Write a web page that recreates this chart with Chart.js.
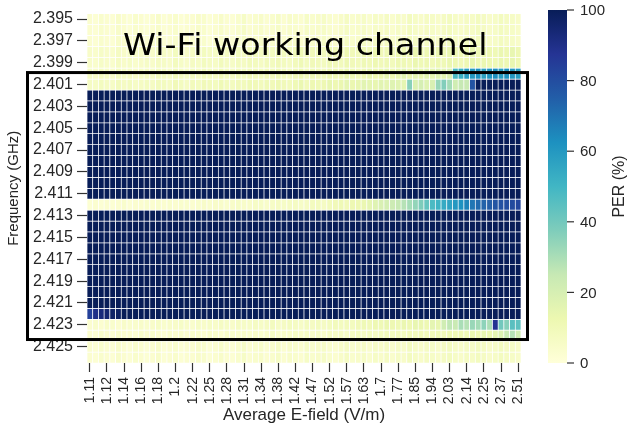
<!DOCTYPE html>
<html>
<head>
<meta charset="utf-8">
<title>PER heatmap</title>
<script src="https://cdn.jsdelivr.net/npm/chart.js@4.4.0/dist/chart.umd.min.js"></script>
<style>
    html, body { margin: 0; padding: 0; background: #ffffff; }
    #perChart { display: block; }
</style>
</head>
<body>
<canvas id="perChart" width="629" height="439"></canvas>
<script>
/* ===================================
   PER (%) vs frequency and E-field
   Heatmap drawn as stacked bar cells
   =================================== */

// Row labels (GHz), top to bottom
const frequencies = [
    '2.395', '2.396', '2.397', '2.398', '2.399', '2.400', '2.401', '2.402',
    '2.403', '2.404', '2.405', '2.406', '2.407', '2.408', '2.409', '2.410',
    '2.411', '2.412', '2.413', '2.414', '2.415', '2.416', '2.417', '2.418',
    '2.419', '2.420', '2.421', '2.422', '2.423', '2.424', '2.425', '2.426'
];

// Tick labels shown under every third E-field column (V/m)
const eFieldTicks = [
    '1.11', '1.12', '1.14', '1.16', '1.18', '1.2', '1.22', '1.25', '1.28',
    '1.31', '1.34', '1.38', '1.42', '1.47', '1.52', '1.57', '1.63', '1.7',
    '1.77', '1.85', '1.94', '2.03', '2.14', '2.25', '2.37', '2.51'
];

const perTicks = [0, 20, 40, 60, 80, 100];

// PER (%) per row, 76 E-field columns each
const quietRow = [
    3, 2, 4, 3, 2, 5, 3, 2, 4, 3, 2, 3, 5, 2, 3, 4, 2, 3, 3, 5,
    4, 2, 3, 5, 3, 2, 4, 6, 3, 4, 5, 3, 4, 6, 3, 5, 4, 3, 6, 4,
    5, 6, 4, 3, 5, 7, 4, 5, 6, 4, 6, 5, 7, 4, 6, 5, 8, 6, 5, 7,
    6, 5, 7, 8, 6, 5, 7, 6, 8, 7, 5, 6, 8, 7, 6, 5
];

const edgeRow = [
    5, 4, 6, 5, 4, 7, 5, 6, 4, 5, 6, 5, 7, 6, 5, 8, 6, 5, 7, 6,
    8, 7, 6, 9, 7, 6, 8, 7, 9, 8, 7, 9, 8, 10, 8, 7, 9, 11, 8, 10,
    9, 8, 11, 10, 9, 12, 10, 9, 11, 10, 12, 10, 11, 9, 12, 11, 10, 13, 11, 12,
    10, 12, 11, 13, 12, 10, 12, 14, 11, 13, 12, 11, 13, 12, 14, 12
];

const row2400 = [
    6, 5, 7, 6, 5, 8, 6, 7, 5, 6, 7, 6, 8, 7, 6, 9, 7, 6, 8, 7,
    9, 8, 7, 10, 8, 7, 9, 8, 10, 9, 8, 10, 9, 11, 9, 8, 10, 12, 9, 11,
    10, 9, 12, 11, 10, 13, 11, 10, 12, 14, 12, 13, 15, 12, 14, 16, 13, 15, 14, 16,
    15, 17, 16, 18, 48, 52, 58, 60, 62, 57, 61, 63, 59, 62, 60, 58
];

const row2401 = [
    7, 6, 8, 7, 6, 9, 7, 8, 6, 7, 8, 7, 9, 8, 7, 10, 8, 7, 9, 8,
    10, 9, 8, 11, 9, 8, 10, 9, 11, 10, 9, 11, 10, 12, 10, 9, 11, 13, 10, 12,
    11, 12, 14, 12, 13, 15, 13, 14, 16, 15, 14, 16, 15, 17, 16, 15, 36, 18, 20, 17,
    19, 33, 37, 31, 22, 25, 24, 78, 100, 100, 100, 100, 100, 100, 100, 100
];

const lossRow = [
    100, 100, 100, 100, 100, 100, 100, 100, 100, 100, 100, 100, 100, 100, 100, 100, 100, 100, 100, 100,
    100, 100, 100, 100, 100, 100, 100, 100, 100, 100, 100, 100, 100, 100, 100, 100, 100, 100, 100, 100,
    100, 100, 100, 100, 100, 100, 100, 100, 100, 100, 100, 100, 100, 100, 100, 100, 100, 100, 100, 100,
    100, 100, 100, 100, 100, 100, 100, 100, 100, 100, 100, 100, 100, 100, 100, 100
];

const row2412 = [
    2, 3, 2, 3, 2, 3, 4, 2, 3, 3, 4, 3, 4, 3, 4, 3, 4, 4, 3, 4,
    5, 4, 5, 5, 4, 5, 6, 5, 5, 6, 6, 5, 6, 7, 6, 7, 7, 6, 7, 8,
    8, 7, 9, 10, 11, 10, 12, 12, 13, 15, 17, 19, 21, 23, 25, 28, 31, 34, 38, 43,
    48, 51, 54, 57, 60, 62, 66, 69, 72, 74, 76, 78, 79, 80, 81, 82
];

const row2422 = [
    84, 90, 93, 95, 97, 98, 100, 100, 100, 100, 100, 100, 100, 100, 100, 100, 100, 100, 100, 100,
    100, 100, 100, 100, 100, 100, 100, 100, 100, 100, 100, 100, 100, 100, 100, 100, 100, 100, 100, 100,
    100, 100, 100, 100, 100, 100, 100, 100, 100, 100, 100, 100, 100, 100, 100, 100, 100, 100, 100, 100,
    100, 100, 100, 100, 100, 100, 100, 100, 100, 100, 100, 100, 100, 100, 100, 100
];

const row2423 = [
    3, 4, 3, 5, 4, 3, 5, 4, 4, 5, 4, 5, 6, 4, 5, 5, 6, 5, 4, 6,
    5, 6, 5, 7, 6, 5, 7, 6, 6, 7, 6, 7, 8, 6, 7, 8, 7, 6, 8, 7,
    8, 7, 8, 9, 8, 9, 8, 10, 11, 10, 12, 11, 13, 12, 11, 13, 12, 14, 13, 12,
    15, 14, 22, 26, 24, 30, 28, 33, 31, 35, 30, 88, 40, 36, 45, 44
];

const row2424 = [
    3, 2, 4, 3, 2, 4, 3, 3, 2, 4, 3, 4, 3, 2, 4, 3, 4, 3, 4, 4,
    3, 5, 4, 3, 5, 4, 4, 5, 4, 5, 4, 5, 6, 4, 5, 5, 6, 5, 6, 5,
    6, 5, 7, 6, 7, 6, 7, 8, 7, 8, 7, 8, 9, 8, 9, 8, 10, 9, 10, 9,
    10, 11, 10, 12, 11, 12, 11, 13, 12, 14, 13, 15, 18, 24, 28, 22
];

// One entry per frequency, same order as `frequencies`
const perGrid = [
    quietRow, quietRow, quietRow, edgeRow, edgeRow, row2400, row2401,
    lossRow, lossRow, lossRow, lossRow, lossRow, lossRow, lossRow, lossRow, lossRow, lossRow,
    row2412,
    lossRow, lossRow, lossRow, lossRow, lossRow, lossRow, lossRow, lossRow, lossRow,
    row2422, row2423, row2424, quietRow, quietRow
];

// YlGnBu colour map
const ylgnbuStops = ['#ffffd9', '#edf8b1', '#c7e9b4', '#7fcdbb', '#41b6c4',
                     '#1d91c0', '#225ea8', '#253494', '#081d58'];

function hexToRgb(hex) {
    const n = parseInt(hex.slice(1), 16);
    return [(n >> 16) & 255, (n >> 8) & 255, n & 255];
}

function ylgnbu(value) {
    const t = Math.max(0, Math.min(1, value / 100)) * (ylgnbuStops.length - 1);
    const i = Math.min(Math.floor(t), ylgnbuStops.length - 2);
    const f = t - i;
    const a = hexToRgb(ylgnbuStops[i]);
    const b = hexToRgb(ylgnbuStops[i + 1]);
    const c = a.map((v, k) => Math.round(v + (b[k] - v) * f));
    return `rgb(${c[0]}, ${c[1]}, ${c[2]})`;
}

const textColor = '#262626';
const fontFamily = "'Liberation Sans', Arial, sans-serif";

// Colour bar, channel box and caption
const overlayPlugin = {
    id: 'overlay',
    afterDraw(chart) {
        const { ctx, chartArea, scales } = chart;
        const y = scales.y;

        // colour bar
        const barLeft = chartArea.right + 27;
        const barWidth = 19;
        const barTop = 10;
        const barBottom = chartArea.bottom;
        const grad = ctx.createLinearGradient(0, barBottom, 0, barTop);
        ylgnbuStops.forEach((c, i) => grad.addColorStop(i / (ylgnbuStops.length - 1), c));
        ctx.save();
        ctx.fillStyle = grad;
        ctx.fillRect(barLeft, barTop, barWidth, barBottom - barTop);

        ctx.strokeStyle = '#333333';
        ctx.lineWidth = 1.2;
        ctx.fillStyle = textColor;
        ctx.font = `15px ${fontFamily}`;
        ctx.textAlign = 'left';
        ctx.textBaseline = 'middle';
        perTicks.forEach(v => {
            const py = barBottom - (v / 100) * (barBottom - barTop);
            ctx.beginPath();
            ctx.moveTo(barLeft + barWidth, py);
            ctx.lineTo(barLeft + barWidth + 7, py);
            ctx.stroke();
            ctx.fillText(String(v), barLeft + barWidth + 13, py + 1);
        });

        ctx.translate(620, (barTop + barBottom) / 2);
        ctx.rotate(-Math.PI / 2);
        ctx.textAlign = 'center';
        ctx.font = `16px ${fontFamily}`;
        ctx.fillText('PER (%)', 0, 0);
        ctx.restore();

        // Wi-Fi channel box (row units on the y scale)
        const boxTop = y.getPixelForValue(5.4);
        const boxBottom = y.getPixelForValue(29.85);
        ctx.save();
        ctx.strokeStyle = '#000000';
        ctx.lineWidth = 3;
        ctx.strokeRect(27.5, boxTop, 500, boxBottom - boxTop);

        // caption
        ctx.fillStyle = '#000000';
        ctx.font = "30px 'DejaVu Sans', sans-serif";
        ctx.textAlign = 'left';
        ctx.textBaseline = 'alphabetic';
        ctx.scale(1.11, 1);
        ctx.fillText('Wi-Fi working channel', 123 / 1.11, 55);
        ctx.restore();
    }
};

const columns = perGrid[0].map((_, i) => i);

new Chart(document.getElementById('perChart'), {
    type: 'bar',
    data: {
        labels: columns,
        datasets: perGrid.map((row, r) => ({
            label: frequencies[r],
            data: row.map(() => 1),
            backgroundColor: row.map(ylgnbu),
            borderColor: '#ffffff',
            borderWidth: 0.7,
            borderSkipped: false,
            barPercentage: 1,
            categoryPercentage: 1
        }))
    },
    options: {
        responsive: false,
        animation: false,
        events: [],
        layout: { padding: { top: 12, right: 108, left: 0, bottom: 0 } },
        plugins: {
            legend: { display: false },
            tooltip: { enabled: false }
        },
        scales: {
            x: {
                stacked: true,
                offset: true,
                border: { display: false },
                grid: {
                    display: true,
                    drawOnChartArea: false,
                    offset: false,
                    tickLength: 9,
                    tickWidth: 1.2,
                    tickColor: '#333333'
                },
                afterBuildTicks: (axis) => {
                    axis.ticks = axis.ticks.filter(t => t.value % 3 === 0);
                },
                afterFit: (axis) => { axis.height = 76; },
                ticks: {
                    autoSkip: false,
                    minRotation: 90,
                    maxRotation: 90,
                    padding: 5,
                    color: textColor,
                    font: { family: fontFamily, size: 14 },
                    callback: (value) => eFieldTicks[value / 3]
                },
                title: {
                    display: true,
                    text: 'Average E-field (V/m)',
                    color: textColor,
                    font: { family: fontFamily, size: 17 },
                    padding: { top: 0, bottom: 13 }
                }
            },
            y: {
                stacked: true,
                reverse: true,
                min: 0,
                max: perGrid.length,
                border: { display: false },
                grid: {
                    display: true,
                    drawOnChartArea: false,
                    tickLength: 10,
                    tickWidth: 1.2,
                    tickColor: '#333333'
                },
                afterBuildTicks: (axis) => {
                    axis.ticks = frequencies
                        .map((f, i) => ({ value: i + 0.5 }))
                        .filter((t, i) => i % 2 === 0);
                },
                afterFit: (axis) => { axis.width = 87; },
                ticks: {
                    autoSkip: false,
                    padding: 4,
                    color: textColor,
                    font: { family: fontFamily, size: 16 },
                    callback: (value) => frequencies[Math.floor(value)]
                },
                title: {
                    display: true,
                    text: 'Frequency (GHz)',
                    color: textColor,
                    font: { family: fontFamily, size: 15 },
                    padding: { top: 5, bottom: 0 }
                }
            }
        }
    },
    plugins: [overlayPlugin]
});
</script>
</body>
</html>
